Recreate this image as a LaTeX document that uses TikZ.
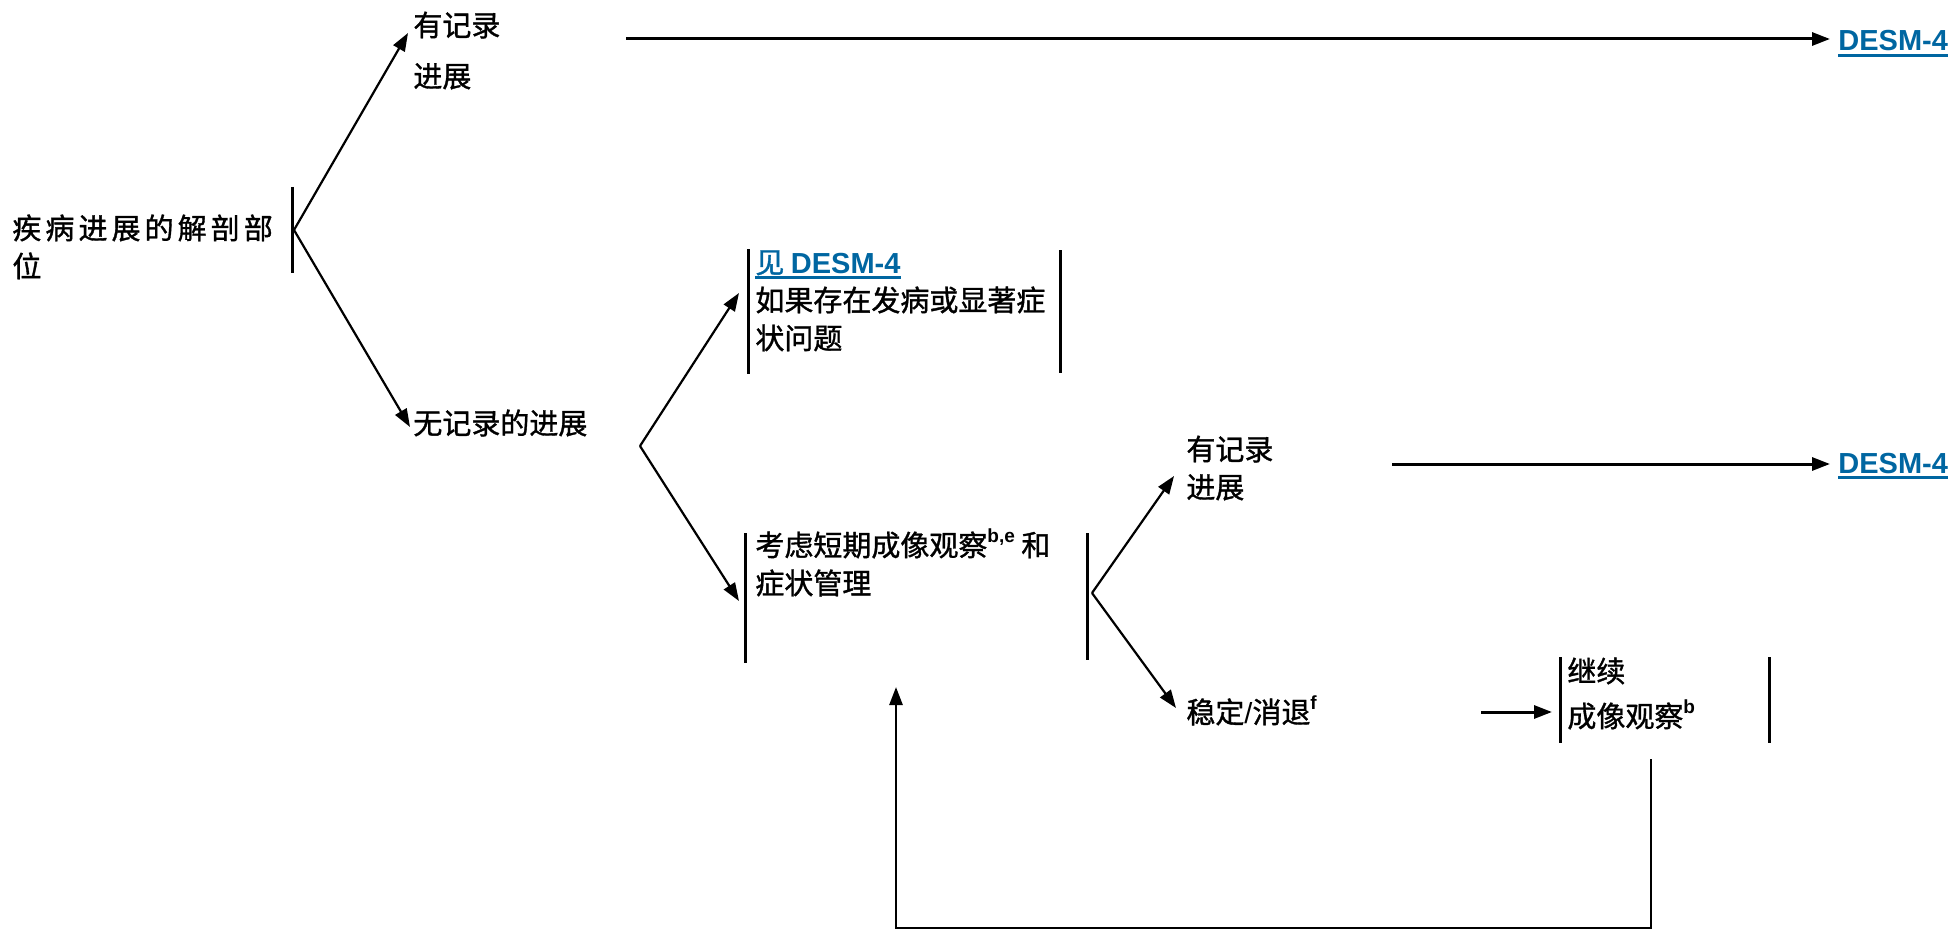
\documentclass[tikz,border=0pt]{standalone}
\usepackage{fontspec}
\setmainfont{Noto Sans CJK SC}[FakeBold=1.2]
\newfontfamily\lat{Liberation Sans}
\newfontfamily\cjksp{Noto Sans CJK SC}[LetterSpace=14,FakeBold=1.2]
\usetikzlibrary{arrows.meta}
\definecolor{linkblue}{RGB}{0,102,161}
\newcommand{\sups}[1]{\raisebox{0.45em}{\lat\bfseries\fontsize{9.5pt}{10pt}\selectfont #1}}
\tikzset{
  txt/.style={anchor=base west, inner sep=0pt, align=left, font=\fontsize{14.5pt}{19pt}\selectfont},
  link/.style={anchor=base west, inner sep=0pt, text=linkblue, font=\fontsize{14.5pt}{19pt}\selectfont},
  uline/.style={draw=linkblue, line width=1.4pt},
  bar/.style={line width=1.5pt},
  arr/.style={line width=1.1pt, -{Triangle[length=9pt,width=6.5pt]}},
  harr/.style={line width=1.5pt, -{Triangle[length=9pt,width=6.5pt]}},
  loopline/.style={line width=1.3pt},
}
\begin{document}
\begin{tikzpicture}[x=0.5pt,y=-0.5pt]
\useasboundingbox (0,0) rectangle (1950,931);

% coordinates
\coordinate (b1t) at (292,187);
\coordinate (b1b) at (292,273);
\coordinate (f1) at (294,230);
\coordinate (a1) at (408,33);
\coordinate (a2) at (410,427);
\coordinate (s1) at (626,39);
\coordinate (e1) at (1830,39);
\coordinate (f2) at (640,446);
\coordinate (a3) at (739,293);
\coordinate (a4) at (739,601);
\coordinate (bx1lt) at (748,249);
\coordinate (bx1lb) at (748,374);
\coordinate (bx1rt) at (1060,250);
\coordinate (bx1rb) at (1060,373);
\coordinate (bx2lt) at (745,533);
\coordinate (bx2lb) at (745,663);
\coordinate (bx2rt) at (1087,533);
\coordinate (bx2rb) at (1087,660);
\coordinate (f3) at (1092,593);
\coordinate (a5) at (1174,476);
\coordinate (a6) at (1176,708);
\coordinate (s2) at (1392,464);
\coordinate (e2) at (1830,464);
\coordinate (s3) at (1481,712);
\coordinate (e3) at (1552,712);
\coordinate (bx3lt) at (1560,657);
\coordinate (bx3lb) at (1560,743);
\coordinate (bx3rt) at (1769,657);
\coordinate (bx3rb) at (1769,743);
\coordinate (l1) at (1651,759);
\coordinate (l2) at (1651,928);
\coordinate (l3) at (896,928);
\coordinate (l4) at (896,687);

% texts (multi-line nodes are placed at the baseline of their last line)
\node[txt] (main) at (12,277) {{\cjksp 疾病进展的解剖部}\\{\cjksp 位}};
\node[txt] (doc1) at (413,87) {有记录\\[6.5pt]进展};
\node[txt] (nodoc) at (413,434) {无记录的进展};
\node[link] (desm1) at (1838,51) {\lat\bfseries DESM-4};
\node[link] (see) at (755,273) {见 {\lat\bfseries DESM-4}};
\node[txt] (sym) at (755,349) {如果存在发病或显著症\\状问题};
\node[txt] (watch) at (755,594) {考虑短期成像观察\sups{b,e} 和\\症状管理};
\node[txt] (doc2) at (1186,498) {有记录\\进展};
\node[link] (desm2) at (1838,473) {\lat\bfseries DESM-4};
\node[txt] (stable) at (1186,723) {稳定{\lat /}消退\sups{f}};
\node[txt] (cont) at (1567,727) {继续\\[3.5pt]成像观察\sups{b}};

% underlines of links
\draw[uline] ([yshift=-2.4pt]desm1.base west) -- ([yshift=-2.4pt]desm1.base east);
\draw[uline] ([yshift=-2.4pt]see.base west) -- ([yshift=-2.4pt]see.base east);
\draw[uline] ([yshift=-2.4pt]desm2.base west) -- ([yshift=-2.4pt]desm2.base east);

% bars
\draw[bar] (b1t) -- (b1b);
\draw[bar] (bx1lt) -- (bx1lb);
\draw[bar] (bx1rt) -- (bx1rb);
\draw[bar] (bx2lt) -- (bx2lb);
\draw[bar] (bx2rt) -- (bx2rb);
\draw[bar] (bx3lt) -- (bx3lb);
\draw[bar] (bx3rt) -- (bx3rb);

% connectors
\draw[arr] (f1) -- (a1);
\draw[arr] (f1) -- (a2);
\draw[harr] (s1) -- (e1);
\draw[arr] (f2) -- (a3);
\draw[arr] (f2) -- (a4);
\draw[arr] (f3) -- (a5);
\draw[arr] (f3) -- (a6);
\draw[harr] (s2) -- (e2);
\draw[harr] (s3) -- (e3);
\draw[loopline, -{Triangle[length=9pt,width=6.5pt]}] (l1) -- (l2) -- (l3) -- (l4);
\end{tikzpicture}
\end{document}
